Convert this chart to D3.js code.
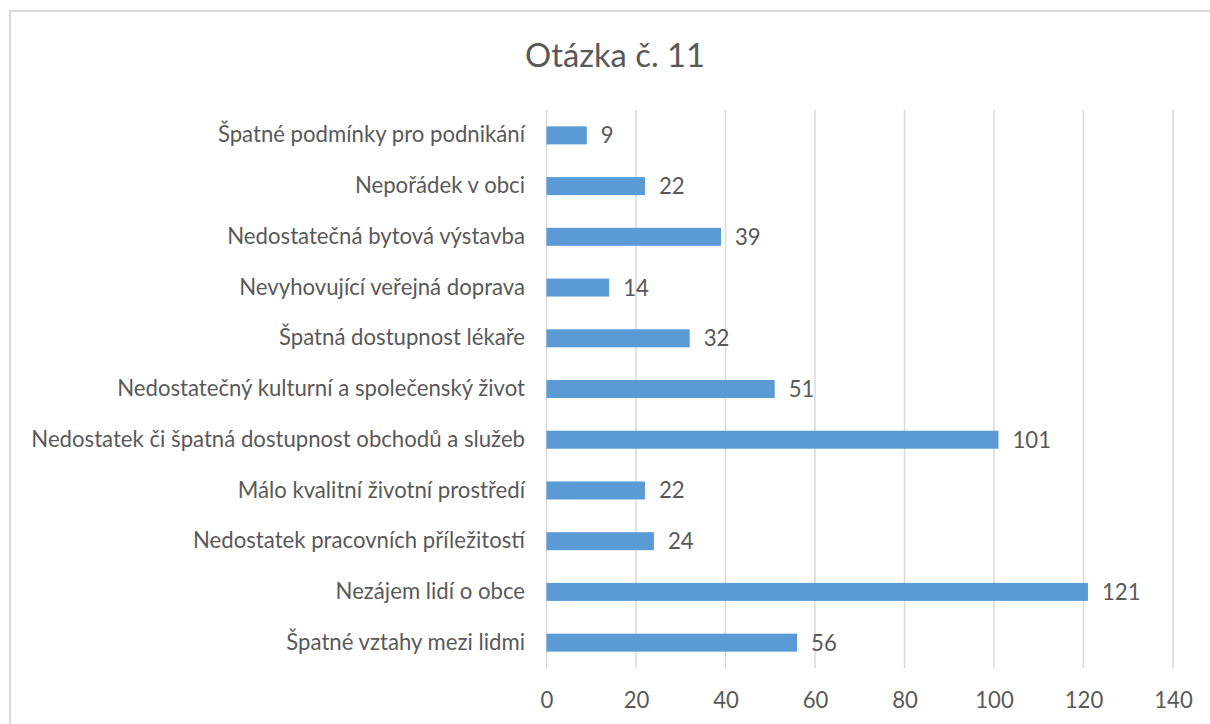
<!DOCTYPE html>
<html>
<head>
<meta charset="utf-8">
<script src="https://cdn.jsdelivr.net/npm/d3@7"></script>
<style>
  html, body { margin: 0; padding: 0; background: #fff; }
  svg { display: block; }
  text { font-family: Lato, "Open Sans", sans-serif; fill: #595959; }
</style>
</head>
<body>
<svg id="chart" width="1210" height="724"></svg>
<script>
const title = "Otázka č. 11";
const categories = [
  "Špatné podmínky pro podnikání",
  "Nepořádek v obci",
  "Nedostatečná bytová výstavba",
  "Nevyhovující veřejná doprava",
  "Špatná dostupnost lékaře",
  "Nedostatečný kulturní a společenský život",
  "Nedostatek či špatná dostupnost obchodů a služeb",
  "Málo kvalitní životní prostředí",
  "Nedostatek pracovních příležitostí",
  "Nezájem lidí o obce",
  "Špatné vztahy mezi lidmi"
];
const values = [9, 22, 39, 14, 32, 51, 101, 22, 24, 121, 56];
const xTicks = [0, 20, 40, 60, 80, 100, 120, 140];

const svg = d3.select("#chart");
const FONT = "Lato, 'Open Sans', sans-serif";

// measure helper to match reference text widths
function fitSize(str, target, base) {
  const t = svg.append("text").style("font-size", base + "px").style("font-family", FONT).text(str);
  const w = t.node().getComputedTextLength();
  t.remove();
  return base * target / w;
}
const labelSize = fitSize("Nedostatek či špatná dostupnost obchodů a služeb", 494, 20);
const titleSize = fitSize(title, 180, 30);

// chart border
svg.append("rect")
  .attr("x", 10).attr("y", 11)
  .attr("width", 1220).attr("height", 740)
  .attr("fill", "none")
  .attr("stroke", "#d9d9d9")
  .attr("stroke-width", 2);

const x = d3.scaleLinear().domain([0, 140]).range([546.5, 1173]);
const y = d3.scaleBand().domain(categories).range([110, 668])
  .paddingInner(0.645).paddingOuter(0.3225);

// gridlines
svg.append("g").selectAll("line").data(xTicks).join("line")
  .attr("x1", d => x(d)).attr("x2", d => x(d))
  .attr("y1", 110).attr("y2", 668)
  .attr("stroke", "#d9d9d9").attr("stroke-width", 1.5);

// x axis labels
const xAxis = d3.axisBottom(x).tickValues(xTicks).tickSize(0).tickPadding(0);
const gx = svg.append("g").attr("transform", "translate(0,692)").call(xAxis);
gx.select(".domain").remove();
gx.selectAll("text")
  .attr("dy", "0.71em")
  .style("font-size", labelSize + "px")
  .style("fill", "#595959")
  .style("font-family", FONT);

// y axis labels
const yAxis = d3.axisLeft(y).tickSize(0).tickPadding(0);
const gy = svg.append("g").attr("transform", "translate(525,0)").call(yAxis);
gy.select(".domain").remove();
gy.selectAll("text")
  .style("font-size", labelSize + "px")
  .style("fill", "#595959")
  .style("font-family", FONT);

// bars
svg.append("g").selectAll("rect").data(categories).join("rect")
  .attr("x", x(0))
  .attr("y", d => y(d))
  .attr("width", (d, i) => x(values[i]) - x(0))
  .attr("height", y.bandwidth())
  .attr("fill", "#5b9bd5");

// value labels
svg.append("g").selectAll("text").data(categories).join("text")
  .attr("x", (d, i) => x(values[i]) + 14)
  .attr("y", d => y(d) + y.bandwidth() / 2)
  .attr("dy", "0.36em")
  .style("font-size", labelSize + "px")
  .text((d, i) => values[i]);

// title
svg.append("text")
  .attr("x", 615).attr("y", 67)
  .attr("text-anchor", "middle")
  .style("font-size", titleSize + "px")
  .text(title);
</script>
</body>
</html>
